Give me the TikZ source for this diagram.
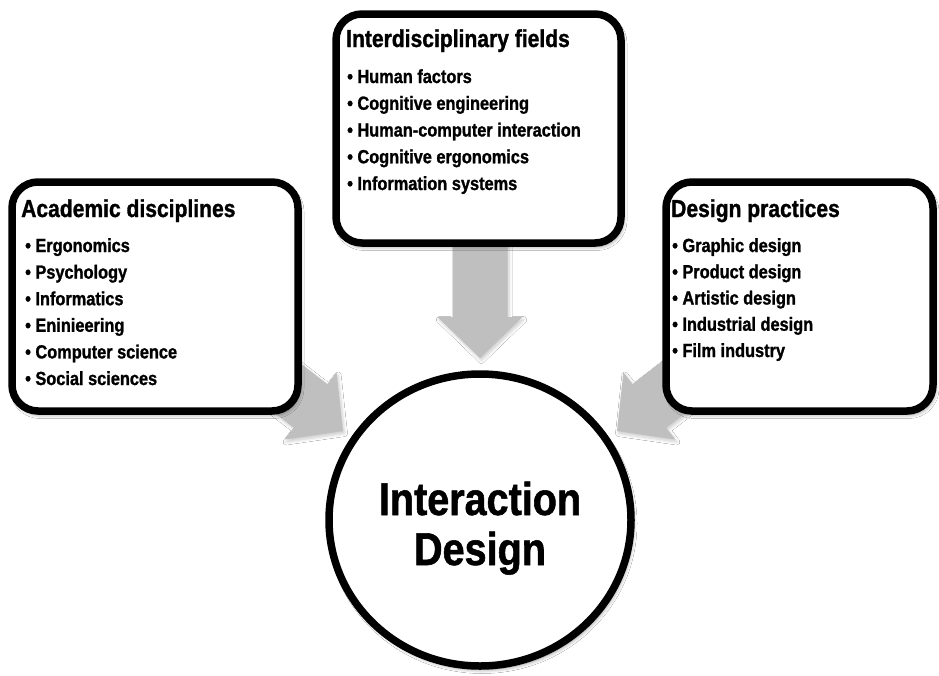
\documentclass[tikz,border=0pt]{standalone}
\usepackage{fontspec}
\setmainfont{Liberation Sans}[FakeStretch=0.86, BoldFeatures={FakeBold=1.2}]
\usetikzlibrary{shapes.geometric,shadows.blur}

\definecolor{arrowgray}{RGB}{191,191,191}

\tikzset{
  soft/.style={blur shadow={shadow xshift=2pt, shadow yshift=-3.5pt,
      shadow blur radius=4pt, shadow blur steps=6, shadow opacity=45}},
  panel/.style={draw=black, line width=7.5pt, fill=white,
      rounded corners=26pt, inner sep=0pt, soft},
  hub/.style={ellipse, draw=black, line width=7.5pt, fill=white,
      inner sep=0pt, soft},
  blockarrow/.style={fill=arrowgray, draw=none,
      blur shadow={shadow xshift=1.5pt, shadow yshift=-2.5pt,
      shadow blur radius=3pt, shadow blur steps=5, shadow opacity=20}},
  head/.style={anchor=base west, inner sep=0pt,
      font=\bfseries\fontsize{24.5}{28}\selectfont},
  entry/.style={anchor=base west, inner sep=0pt,
      font=\bfseries\fontsize{19}{22}\selectfont},
  title/.style={anchor=base, inner sep=0pt,
      font=\bfseries\fontsize{46}{50}\selectfont},
}

\begin{document}
\begin{tikzpicture}[x=1pt, y=-1pt]
  \useasboundingbox[fill=white] (0,0) rectangle (939,675);

  % block arrows pointing at the hub (tails hidden under the panels)
  \coordinate (tipL) at (343,431);
  \coordinate (tipT) at (480,358);
  \coordinate (tipR) at (617,431);
  \fill[blockarrow] (223.34,373.19) -- (293.74,427.66) -- (284.56,439.53)
      -- (tipL) -- (336.58,372.29) -- (327.40,384.16) -- (257.00,329.69) -- cycle;
  \fill[blockarrow] (452.5,235) -- (452.5,317) -- (437.5,317) -- (tipT)
      -- (522.5,317) -- (507.5,317) -- (507.5,235) -- cycle;
  \fill[blockarrow] (736.66,373.19) -- (666.26,427.66) -- (675.44,439.53)
      -- (tipR) -- (623.42,372.29) -- (632.60,384.16) -- (703.00,329.69) -- cycle;

  % panels
  \node[panel, minimum width=286pt, minimum height=229pt] (acad) at (155,296.5) {};
  \node[panel, minimum width=285pt, minimum height=229pt] (inter) at (478.5,128.5) {};
  \node[panel, minimum width=267pt, minimum height=229pt] (design) at (799.5,296.5) {};

  % panel texts
  \node[head] (acadhead) at (21,217) {Academic disciplines};
  \foreach \t [count=\i from 0] in {Ergonomics, Psychology, Informatics,
      Eninieering, Computer science, Social sciences}
    \node[entry] (acad\i) at (25,252+26.6*\i) {• \t};

  \node[head] (interhead) at (346,47) {Interdisciplinary fields};
  \foreach \t [count=\i from 0] in {Human factors, Cognitive engineering,
      Human-computer interaction, Cognitive ergonomics, Information systems}
    \node[entry] (inter\i) at (347,83+26.75*\i) {• \t};

  \node[head] (designhead) at (671,217) {Design practices};
  \foreach \t [count=\i from 0] in {Graphic design, Product design,
      Artistic design, Industrial design, Film industry}
    \node[entry] (design\i) at (672,252+26.25*\i) {• \t};

  % hub
  \node[hub, minimum width=302pt, minimum height=292pt] (hub) at (480,520) {};
  \node[title] (hubline1) at (480,515) {Interaction};
  \node[title] (hubline2) at (480,565) {Design};
\end{tikzpicture}
\end{document}
